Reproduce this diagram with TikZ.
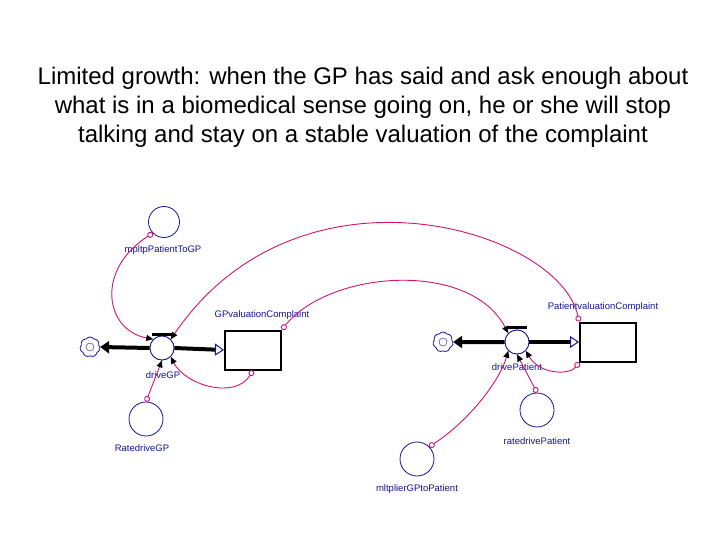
\documentclass[tikz,border=0pt]{standalone}
\usepackage{fontspec}
\setmainfont{Liberation Sans}
\usetikzlibrary{arrows.meta,shapes.symbols}
\definecolor{nb}{RGB}{20,20,150}
\definecolor{mg}{RGB}{210,20,110}
\begin{document}
\begin{tikzpicture}[x=1pt,y=-1pt,
 aux/.style={circle,draw=nb,thick,minimum size=32pt,inner sep=0pt},
 valve/.style={circle,draw=nb,thick,fill=white,minimum size=24pt,inner sep=0pt},
 stock/.style={draw=black,line width=2pt,minimum width=56pt,minimum height=39pt,inner sep=0pt},
 lbl/.style={text=nb,font=\fontsize{9.5pt}{11pt}\selectfont,inner sep=1pt},
 cloudn/.style={cloud,cloud puffs=7,cloud puff arc=110,aspect=1,draw=nb,thick,minimum size=20pt,inner sep=0pt},
 conn/.style={draw=mg,line width=0.9pt,{Circle[open,length=6pt,width=6pt]}-{Triangle[black,length=7pt,width=6pt]}},
 flow/.style={line width=4pt}]
\useasboundingbox (0,0) rectangle (720,540);
\node[align=center,font=\fontsize{24pt}{29pt}\selectfont] (title) at (363,107) {Limited growth: when the GP has said and ask enough about\\what is in a biomedical sense going on, he or she will stop\\talking and stay on a stable valuation of the complaint};
% left
\node[stock] (s1) at (253,350) {};
\node[cloudn] (c1) at (90,347) {};
\draw[nb,thin] (c1.center) circle (4pt);
\node[valve] (v1) at (162,348) {};
\draw[flow,-{Triangle[length=9pt,width=12pt]}] (v1.west) -- (c1.east);
\draw[flow,-{Triangle[open,length=9pt,width=12pt,line width=1pt,nb]}] (v1.east) -- (s1.west);
\draw[line width=3pt] (152,334) -- (172,334);
\node[valve] at (v1) {};
\node[lbl] (l1) at (262,315) {GPvaluationComplaint};
\node[lbl] (d1) at (163,375) {driveGP};
\node[aux,minimum size=31pt] (m1) at (164,222) {};
\node[lbl] (lm1) at (163,250) {mpltpPatientToGP};
\node[aux,minimum size=34pt] (r1) at (146,419) {};
\node[lbl] (lr1) at (142,448) {RatedriveGP};
% right
\node[stock] (s2) at (608,342) {};
\node[cloudn] (c2) at (443,342) {};
\draw[nb,thin] (c2.center) circle (4pt);
\node[valve] (v2) at (517,342) {};
\draw[flow,-{Triangle[length=9pt,width=12pt]}] (v2.west) -- (c2.east);
\draw[flow,-{Triangle[open,length=9pt,width=12pt,line width=1pt,nb]}] (v2.east) -- (s2.west);
\draw[line width=3pt] (507,327) -- (527,327);
\node[valve] at (v2) {};
\node[lbl] (l2) at (603,307) {PatientvaluationComplaint};
\node[lbl] (d2) at (517,367) {drivePatient};
\node[aux,minimum size=34pt] (r2) at (537,410) {};
\node[lbl] (lr2) at (537,441) {ratedrivePatient};
\node[aux,minimum size=34pt] (m2) at (417,459) {};
\node[lbl] (lm2) at (417,489) {mltplierGPtoPatient};
% connectors
\draw[conn] (m1.south west) .. controls (95,270) and (105,330) .. (v1.north west);
\draw[conn] (r1.north) -- (v1.south);
\draw[conn] (s1.south) .. controls (235,400) and (185,385) .. (v1.south east);
\draw[conn] (s2.north west) .. controls (560,230) and (300,150) .. (v1.north east);
\draw[conn] (s1.north east) .. controls (330,270) and (470,260) .. (v2.north west);
\draw[conn] (r2.north) -- (v2.south);
\draw[conn] (m2.north east) .. controls (470,420) and (500,380) .. (v2.south west);
\draw[conn] (s2.south west) .. controls (570,375) and (540,375) .. (v2.south east);
\end{tikzpicture}
\end{document}
